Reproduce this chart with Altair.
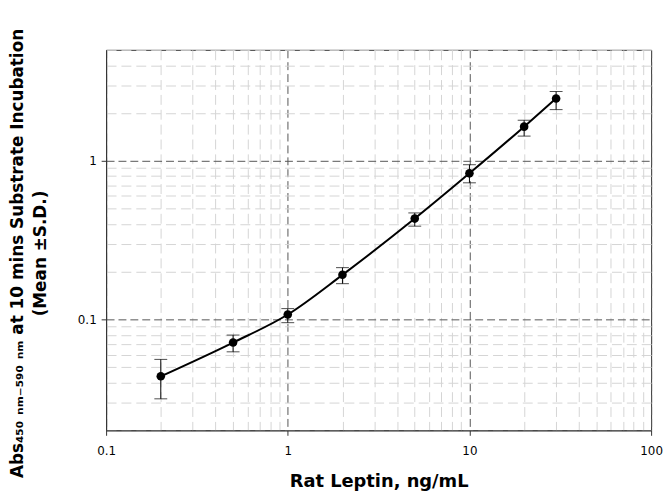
import altair as alt
import pandas as pd

conc = [0.2, 0.5, 1, 2, 5, 10, 20, 30]
absorb = [0.0438, 0.0715, 0.1074, 0.191, 0.432, 0.833, 1.64, 2.47]
err_lo = [0.0316, 0.0625, 0.0954, 0.168, 0.387, 0.726, 1.43, 2.10]
err_hi = [0.056, 0.0797, 0.117, 0.212, 0.469, 0.944, 1.80, 2.73]

x_ticks = [0.1, 0.2, 0.3, 0.4, 0.5, 0.6, 0.7, 0.8, 0.9,
           1, 2, 3, 4, 5, 6, 7, 8, 9,
           10, 20, 30, 40, 50, 60, 70, 80, 90, 100]
y_ticks = [0.02, 0.03, 0.04, 0.05, 0.06, 0.07, 0.08, 0.09,
           0.1, 0.2, 0.3, 0.4, 0.5, 0.6, 0.7, 0.8, 0.9,
           1, 2, 3, 4, 5]

df = pd.DataFrame({"conc": conc, "abs": absorb, "lo": err_lo, "hi": err_hi})

DEC = "abs(log(datum.value)/LN10 - round(log(datum.value)/LN10)) < 1e-6"

def axis(values, title, **kw):
    return alt.Axis(
        values=values,
        title=title,
        labelExpr=f"({DEC}) ? format(datum.value, '~g') : ''",
        grid=True,
        gridColor={"condition": {"test": DEC, "value": "#555555"}, "value": "#d4d4d4"},
        gridDash={"condition": {"test": DEC, "value": [8, 4]}, "value": [10, 5]},
        gridWidth=1,
        tickOpacity={"condition": {"test": DEC, "value": 1}, "value": 0},
        tickColor="#333333",
        tickSize=5,
        domainColor="#333333",
        labelFont="DejaVu Sans",
        labelFontSize=12,
        labelColor="black",
        labelFlush=False,
        labelOverlap=False,
        titleFont="DejaVu Sans",
        titleFontWeight="bold",
        titleColor="black",
        **kw,
    )

xenc = alt.X("conc:Q", scale=alt.Scale(type="log", domain=[0.1, 100], nice=False),
             axis=axis(x_ticks, "Rat Leptin, ng/mL", titlePadding=17,
                       labelPadding=10, titleFontSize=18))
yenc = alt.Y("abs:Q", scale=alt.Scale(type="log", domain=[0.02, 5], nice=False),
             axis=axis(y_ticks,
                       ["Abs₄₅₀ ₙₘ₋₅₉₀ ₙₘ at 10 mins Substrate Incubation",
                        "(Mean ±S.D.)"],
                       labelPadding=5, titlePadding=28, titleLineHeight=23,
                       titleFontSize=17, titleY=205))

base = alt.Chart(df)

line = base.mark_line(color="black", strokeWidth=2, interpolate="monotone").encode(x=xenc, y=yenc)
bars = base.mark_rule(color="black", strokeWidth=1).encode(x="conc:Q", y="lo:Q", y2="hi:Q")
cap_lo = base.mark_tick(color="black", orient="horizontal", size=13, thickness=1).encode(x="conc:Q", y="lo:Q")
cap_hi = base.mark_tick(color="black", orient="horizontal", size=13, thickness=1).encode(x="conc:Q", y="hi:Q")
pts = base.mark_circle(color="black", size=75, opacity=1).encode(x="conc:Q", y="abs:Q")

chart = alt.layer(line, bars, cap_lo, cap_hi, pts).properties(
    width=550, height=384,
    autosize=alt.AutoSizeParams(type="none"),
    padding={"left": 99, "top": 40, "right": 12, "bottom": 59},
).configure_view(stroke="#333333", strokeWidth=1)

chart.save("out.html", embed_options={"renderer": "svg", "actions": False})
